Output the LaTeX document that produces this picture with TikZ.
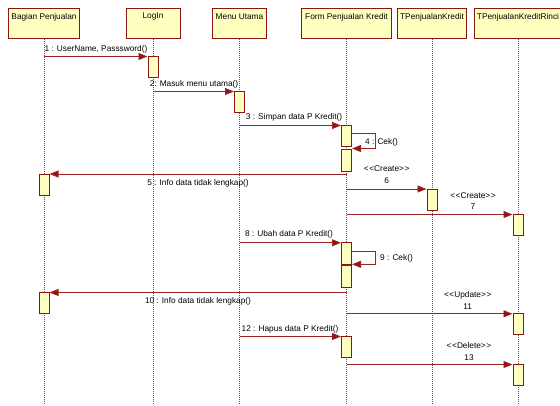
\documentclass[tikz,border=0pt]{standalone}
\usepackage{fontspec}
\setmainfont{Liberation Sans}
\usetikzlibrary{arrows.meta}
\definecolor{boxfill}{RGB}{255,255,192}
\definecolor{boxline}{RGB}{140,22,22}
\definecolor{msgline}{RGB}{160,35,35}
\definecolor{lifecol}{RGB}{90,90,90}
\newcommand{\stl}[1]{\textless\kern0.6pt\textless#1\textgreater\kern0.6pt\textgreater}
\begin{document}
\begin{tikzpicture}[x=1pt,y=-1pt,
  every node/.style={font=\fontsize{8.3}{10}\selectfont, inner sep=0pt},
  headbox/.style={draw=boxline, fill=boxfill, line width=1pt},
  headtext/.style={anchor=center},
  life/.style={draw=lifecol, line width=0.5pt, dash pattern=on 1pt off 1pt},
  act/.style={draw=boxline, fill=boxfill, line width=1pt, minimum width=10pt, anchor=north, inner sep=0pt},
  msg/.style={draw=msgline, line width=0.9pt, -{Triangle[length=9pt,width=7pt,fill=boxline]}},
  lbl/.style={anchor=center}
]
\useasboundingbox (0,0) rectangle (560,405);
\fill[white] (0,0) rectangle (560,405);

% header boxes
\node[headbox, minimum width=71pt, minimum height=30pt, anchor=north] (hB) at (44,8) {};
\node[headbox, minimum width=54pt, minimum height=30pt, anchor=north] (hL) at (153,8) {};
\node[headbox, minimum width=54pt, minimum height=30pt, anchor=north] (hM) at (239.5,8) {};
\node[headbox, minimum width=90pt, minimum height=30pt, anchor=north] (hF) at (346.5,8) {};
\node[headbox, minimum width=69pt, minimum height=30pt, anchor=north] (hT) at (432,8) {};
\node[headbox, minimum width=88pt, minimum height=30pt, anchor=north] (hR) at (518,8) {};
\node[headtext] (tB) at (44,17) {Bagian Penjualan};
\node[headtext] (tL) at (153,17) {LogIn};
\node[headtext] (tM) at (239.5,17) {Menu Utama};
\node[headtext] (tF) at (346.5,17) {Form Penjualan Kredit};
\node[headtext] (tT) at (432,17) {TPenjualanKredit};
\node[headtext] (tR) at (518,17) {TPenjualanKreditRinci};

% lifeline ends
\coordinate (eB) at (44,405);
\coordinate (eL) at (153,405);
\coordinate (eM) at (239.5,405);
\coordinate (eF) at (346.5,405);
\coordinate (eT) at (432,405);
\coordinate (eR) at (518,405);
\draw[life] (hB.south) -- (eB);
\draw[life] (hL.south) -- (eL);
\draw[life] (hM.south) -- (eM);
\draw[life] (hF.south) -- (eF);
\draw[life] (hT.south) -- (eT);
\draw[life] (hR.south) -- (eR);

% activations
\node[act, minimum height=21pt] (aL) at (153,56) {};
\node[act, minimum height=21pt] (aM) at (239.5,91) {};
\node[act, minimum height=21pt] (aF1) at (346.5,125) {};
\node[act, minimum height=22pt] (aF2) at (346.5,149) {};
\node[act, minimum height=21pt] (aB1) at (44,173.7) {};
\node[act, minimum height=21pt] (aT1) at (432,188.7) {};
\node[act, minimum height=21pt] (aR1) at (518,214) {};
\node[act, minimum height=22pt] (aF3) at (346.5,242.3) {};
\node[act, minimum height=22pt] (aF4) at (346.5,265.3) {};
\node[act, minimum height=21pt] (aB2) at (44,292.3) {};
\node[act, minimum height=21pt] (aR2) at (518,313.3) {};
\node[act, minimum height=21pt] (aF5) at (346.5,336) {};
\node[act, minimum height=21pt] (aR3) at (518,364) {};

% message start points
\coordinate (s1) at (44,56.5);
\coordinate (s2) at (153,91.5);
\coordinate (s3) at (239.5,125.5);
\coordinate (s5) at (346.5,174);
\coordinate (s6) at (346.5,189);
\coordinate (s7) at (346.5,214.5);
\coordinate (s8) at (239.5,242.8);
\coordinate (s10) at (346.5,292.5);
\coordinate (s11) at (346.5,313.8);
\coordinate (s12) at (239.5,336.5);
\coordinate (s13) at (346.5,364.5);
\coordinate (k4) at (375,133);
\coordinate (k9) at (375,251);

% messages
\draw[msg] (s1) -- (s1 -| aL.west);
\draw[msg] (s2) -- (s2 -| aM.west);
\draw[msg] (s3) -- (s3 -| aF1.west);
\draw[msg] (k4 -| aF1.east) -- (k4) -- ([yshift=0.5pt]k4 |- aF2.north) -- ([yshift=0.5pt]aF2.north east);
\draw[msg] (s5) -- (s5 -| aB1.east);
\draw[msg] (s6) -- (s6 -| aT1.west);
\draw[msg] (s7) -- (s7 -| aR1.west);
\draw[msg] (s8) -- (s8 -| aF3.west);
\draw[msg] (k9 -| aF3.east) -- (k9) -- ([yshift=1pt]k9 |- aF4.north) -- ([yshift=1pt]aF4.north east);
\draw[msg] (s10) -- (s10 -| aB2.east);
\draw[msg] (s11) -- (s11 -| aR2.west);
\draw[msg] (s12) -- (s12 -| aF5.west);
\draw[msg] (s13) -- (s13 -| aR3.west);

% labels
\node[lbl] (l1) at (96,49) {1 : UserName, Passsword()};
\node[lbl] (l2) at (194,84) {2: Masuk menu utama()};
\node[lbl] (l3) at (294,117) {3 : Simpan data P Kredit()};
\node[lbl, anchor=west] (l4) at (365,142) {4 : Cek()};
\node[lbl] (l5) at (198,183) {5 : Info data tidak lengkap()};
\node[lbl] (l6a) at (386.7,169) {\stl{Create}};
\node[lbl] (l6b) at (386.7,180.7) {6};
\node[lbl] (l7a) at (473,196) {\stl{Create}};
\node[lbl] (l7b) at (473,206.6) {7};
\node[lbl] (l8) at (289,234) {8 : Ubah data P Kredit()};
\node[lbl, anchor=west] (l9) at (380,258) {9 : Cek()};
\node[lbl] (l10) at (198,301) {10 : Info data tidak lengkap()};
\node[lbl] (l11a) at (467.7,295) {\stl{Update}};
\node[lbl] (l11b) at (467.7,306.7) {11};
\node[lbl] (l12) at (290,329) {12 : Hapus data P Kredit()};
\node[lbl] (l13a) at (469,346) {\stl{Delete}};
\node[lbl] (l13b) at (469,357.7) {13};
\end{tikzpicture}
\end{document}
